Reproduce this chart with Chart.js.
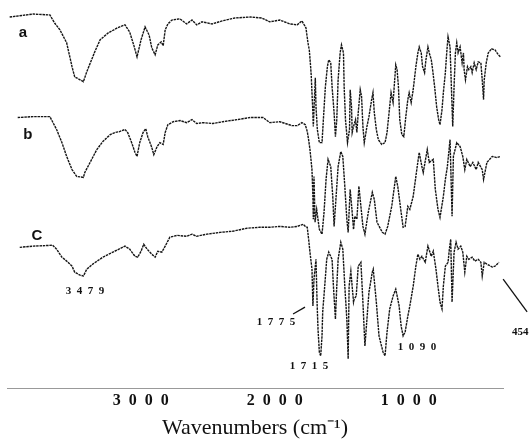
<!DOCTYPE html>
<html><head><meta charset="utf-8">
<style>html,body{margin:0;padding:0;background:#fff;}canvas{display:block;}</style>
<script src="https://cdn.jsdelivr.net/npm/chart.js@4/dist/chart.umd.min.js"></script>
</head><body>
<canvas id="c" width="529" height="439"></canvas>
<script>
// Wavenumber (cm-1), transmittance (offset, arbitrary units)
const traceA = [
[4030,124.3],[3855,125.3],[3730,125.0],[3695,122.3],[3655,120.0],[3605,115.7],[3565,107.7],[3545,104.3],[3480,102.7],[3455,106.0],[3395,112.7],[3355,116.7],[3295,119.0],[3225,120.7],[3170,121.7],[3135,119.3],[3105,115.0],[3080,111.0],[3050,116.7],[3020,121.0],[2990,118.3],[2970,114.0],[2945,111.7],[2925,115.0],[2900,116.0],[2885,114.7],[2870,120.0],[2850,122.0],[2820,123.3],[2760,123.7],[2710,122.0],[2670,123.3],[2635,121.7],[2595,122.7],[2520,122.0],[2445,123.0],[2350,124.0],[2235,124.3],[2150,124.0],[2090,122.7],[2015,123.3],[1940,122.0],[1885,121.7],[1850,123.0],[1820,120.7],[1805,115.7],[1795,113.3],[1785,107.7],[1780,104.3],[1775,99.0],[1770,94.3],[1765,87.7],[1760,93.3],[1750,104.0],[1745,94.3],[1735,86.7],[1720,82.3],[1700,82.3],[1690,90.0],[1675,101.0],[1660,107.7],[1650,110.0],[1635,109.0],[1625,101.0],[1610,92.3],[1600,84.3],[1590,90.0],[1580,103.3],[1565,112.3],[1555,115.0],[1540,112.3],[1535,101.0],[1525,90.0],[1510,82.3],[1495,86.7],[1490,100.0],[1480,94.3],[1475,85.7],[1465,87.7],[1450,90.0],[1440,85.7],[1430,92.3],[1415,100.0],[1405,97.7],[1395,87.7],[1385,82.3],[1365,87.7],[1350,91.0],[1330,96.7],[1320,99.0],[1310,92.3],[1295,86.7],[1280,83.3],[1255,81.7],[1230,82.3],[1215,85.7],[1200,92.3],[1185,99.0],[1170,95.7],[1150,108.3],[1140,106.7],[1130,101.0],[1120,90.0],[1105,85.0],[1090,84.3],[1075,91.0],[1060,96.7],[1050,99.0],[1035,95.7],[1020,100.0],[1000,107.7],[985,112.3],[975,114.3],[960,112.3],[950,107.7],[935,105.7],[925,110.0],[910,114.3],[900,112.3],[885,110.0],[875,106.7],[860,101.0],[845,94.3],[830,90.0],[820,88.3],[805,93.3],[795,99.0],[780,105.7],[770,112.3],[760,117.7],[745,114.3],[735,101.0],[725,87.7],[715,101.0],[705,112.3],[695,115.7],[685,112.3],[670,114.3],[655,109.0],[645,112.3],[640,106.7],[630,103.3],[615,107.7],[605,106.7],[590,107.7],[580,105.7],[565,109.0],[550,106.7],[535,109.3],[515,109.0],[505,103.3],[495,96.7],[490,103.3],[475,109.0],[460,112.3],[435,113.7],[410,113.3],[385,111.7],[370,111.0]
];
const traceB = [
[3970,90.7],[3855,91.0],[3730,91.0],[3680,86.7],[3640,82.3],[3605,77.7],[3565,73.3],[3530,71.0],[3480,70.7],[3470,72.3],[3430,75.7],[3380,80.0],[3335,82.7],[3280,85.0],[3245,85.7],[3210,86.0],[3170,86.7],[3150,85.7],[3120,82.3],[3095,79.0],[3080,77.7],[3060,82.3],[3035,85.7],[3015,87.0],[3000,84.3],[2970,80.7],[2955,78.3],[2930,81.0],[2910,82.3],[2885,81.7],[2870,85.7],[2850,88.3],[2810,89.3],[2760,89.7],[2710,89.0],[2670,90.0],[2635,88.7],[2590,89.0],[2515,88.7],[2440,89.3],[2335,90.0],[2235,90.7],[2140,90.7],[2090,89.0],[2015,89.3],[1925,88.0],[1885,88.0],[1850,89.0],[1825,88.3],[1810,86.0],[1800,83.3],[1790,80.0],[1775,73.3],[1768,64.3],[1765,56.7],[1760,71.0],[1752,55.7],[1740,60.0],[1720,53.3],[1700,51.7],[1685,59.0],[1670,70.0],[1655,76.7],[1635,74.3],[1620,64.3],[1610,54.3],[1595,64.3],[1580,74.3],[1560,79.3],[1545,77.7],[1530,67.7],[1515,56.7],[1505,52.3],[1490,66.7],[1475,59.0],[1465,53.3],[1455,57.7],[1440,56.7],[1425,67.7],[1410,61.0],[1395,54.3],[1380,51.7],[1355,59.0],[1325,65.7],[1310,63.3],[1290,55.7],[1250,52.3],[1230,51.7],[1210,54.3],[1180,61.0],[1150,71.0],[1135,67.7],[1110,59.0],[1095,54.0],[1080,54.3],[1060,61.0],[1045,60.0],[1020,64.3],[990,74.3],[975,79.0],[955,74.3],[945,72.3],[915,80.0],[900,75.7],[870,76.7],[855,66.7],[835,60.0],[820,57.3],[795,64.3],[780,70.0],[765,74.3],[745,83.3],[730,57.7],[720,77.7],[695,82.3],[670,81.0],[650,77.7],[635,73.3],[620,76.7],[595,74.3],[575,75.7],[550,73.3],[535,75.7],[505,73.3],[495,70.0],[470,75.7],[430,77.7],[395,77.3],[370,77.7]
];
const traceC = [
[3955,47.3],[3855,47.7],[3710,48.0],[3680,46.7],[3640,44.0],[3605,42.7],[3565,41.0],[3545,39.0],[3505,38.0],[3480,37.7],[3455,40.0],[3410,41.7],[3335,44.0],[3260,45.7],[3170,47.7],[3135,46.7],[3095,44.3],[3075,44.0],[3050,46.0],[3030,48.3],[3005,46.7],[2970,45.0],[2945,44.0],[2925,46.0],[2895,45.7],[2870,47.7],[2835,50.7],[2780,51.3],[2710,51.0],[2670,51.7],[2635,51.0],[2560,51.7],[2460,52.3],[2365,52.7],[2260,53.7],[2165,54.0],[2090,54.0],[2015,54.3],[1940,54.0],[1885,54.3],[1840,55.0],[1825,54.3],[1810,54.0],[1800,50.0],[1790,45.7],[1775,40.0],[1768,27.7],[1760,36.7],[1745,43.3],[1737,29.0],[1730,20.0],[1720,12.3],[1710,11.0],[1700,17.7],[1695,25.7],[1680,34.3],[1665,43.3],[1650,45.7],[1625,43.3],[1615,34.3],[1600,23.3],[1590,34.3],[1580,43.3],[1560,49.0],[1545,46.7],[1530,34.3],[1515,23.3],[1505,10.0],[1498,34.3],[1485,39.3],[1465,29.0],[1460,30.0],[1445,31.0],[1430,41.0],[1410,42.3],[1395,29.0],[1380,14.3],[1365,23.3],[1350,32.3],[1325,39.0],[1318,40.0],[1295,29.0],[1275,17.7],[1245,12.3],[1230,11.0],[1215,19.0],[1195,26.7],[1170,31.0],[1150,33.3],[1135,30.0],[1125,27.7],[1110,21.0],[1095,17.7],[1080,19.0],[1060,24.3],[1045,27.7],[1020,34.3],[1000,41.0],[985,45.0],[970,43.3],[955,44.3],[930,42.3],[910,47.7],[885,44.3],[870,46.0],[850,40.0],[835,34.3],[820,29.0],[805,26.7],[795,34.3],[780,41.0],[760,42.3],[750,46.7],[740,50.0],[730,29.0],[715,45.7],[700,49.0],[685,46.7],[665,47.7],[650,45.7],[635,39.0],[620,44.3],[605,43.3],[580,44.0],[560,42.7],[535,43.3],[515,42.3],[505,37.7],[490,42.3],[470,41.7],[430,40.7],[410,41.0],[380,42.3]
];
const traceLabels = ['a', 'b', 'C'];
const xTicks = [3000, 2000, 1000];
const peakLabels = ['3479', '1775', '1715', '1090', '454'];
const axisTitle = 'Wavenumbers (cm\u207B\u00B9)';

const spaced = s => String(s).split('').join('\u2002');

const notes = {
  id: 'notes',
  afterDatasetsDraw(chart) {
    const {ctx, scales: {x, y}} = chart;
    const P = (w, t) => [x.getPixelForValue(w), y.getPixelForValue(t)];
    ctx.save();
    ctx.fillStyle = '#111';
    ctx.strokeStyle = '#111';
    ctx.textBaseline = 'middle';
    ctx.textAlign = 'center';
    ctx.font = 'bold 15px "Liberation Sans"';
    const tl = [[3932, 119], [3894, 85], [3827, 51]];
    traceLabels.forEach((s, i) => { const p = P(tl[i][0], tl[i][1]); ctx.fillText(s, p[0], p[1]); });
    ctx.font = 'bold 11px "Liberation Serif"';
    const pl = [[3469, 32.7], [2043, 22.3], [1797, 7.7], [991, 14]];
    pl.forEach((q, i) => { const p = P(q[0], q[1]); ctx.fillText(spaced(peakLabels[i]), p[0], p[1]); });
    ctx.textAlign = 'left';
    const p454 = P(282, 19);
    ctx.fillText(peakLabels[4], p454[0], p454[1]);
    ctx.lineWidth = 1.3;
    const line = (a, b) => { const p1 = P(a[0], a[1]), p2 = P(b[0], b[1]); ctx.beginPath(); ctx.moveTo(p1[0], p1[1]); ctx.lineTo(p2[0], p2[1]); ctx.stroke(); };
    line([1916, 25], [1827, 27.3]);
    line([349, 36.7], [170, 25.7]);
    ctx.restore();
  }
};

new Chart(document.getElementById('c'), {
  type: 'line',
  data: {
    datasets: [traceA, traceB, traceC].map((d, i) => ({
      label: traceLabels[i],
      data: d.map(p => ({x: p[0], y: p[1]})),
      borderColor: '#151515',
      borderWidth: 1.4,
      borderDash: [2.5, 0.8],
      pointRadius: 0,
      fill: false,
      tension: 0
    }))
  },
  options: {
    responsive: false,
    animation: false,
    devicePixelRatio: 1,
    layout: {padding: {left: 7, right: 26, top: 0, bottom: 0}},
    plugins: {legend: {display: false}, tooltip: {enabled: false}},
    scales: {
      x: {
        type: 'linear', reverse: true, min: 350, max: 4050,
        afterBuildTicks: s => { s.ticks = xTicks.map(v => ({value: v})); },
        ticks: {
          callback: v => spaced(v),
          font: {family: 'Liberation Serif', weight: 'bold', size: 16},
          color: '#111', padding: 2, maxRotation: 0, autoSkip: false, labelOffset: -7
        },
        grid: {display: false, drawTicks: false, tickLength: 0},
        border: {display: true, color: '#999', dash: [2, 4], width: 1},
        title: {
          display: true, text: axisTitle, color: '#111',
          font: {family: 'Liberation Serif', size: 22, lineHeight: 1},
          padding: {top: 5, bottom: 0}
        }
      },
      y: {display: false, min: 0, max: 130}
    }
  },
  plugins: [notes]
});
</script>
</body></html>
